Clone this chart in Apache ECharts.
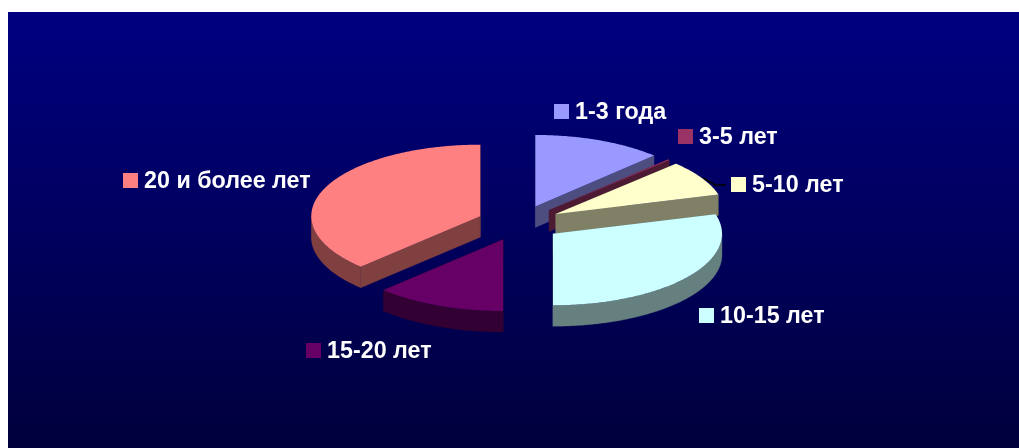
<!DOCTYPE html>
<html>
<head>
<meta charset="utf-8">
<style>html,body{margin:0;padding:0;background:#fff}#chart{width:1019px;height:448px}</style>
<script src="https://cdn.jsdelivr.net/npm/echarts@6/dist/echarts.min.js"></script>
</head>
<body>
<div id="chart"></div>
<script>
const categories = ['1-3 года', '3-5 лет', '5-10 лет', '10-15 лет', '15-20 лет', '20 и более лет'];
const shares = [12.4, 0.2, 8.0, 29.4, 12.5, 37.5];
const topColors = ['#9999FF', '#993366', '#FFFFCC', '#CCFFFF', '#660066', '#FF8080'];
const sideColors = ['#4D4D80', '#4D1A33', '#808066', '#668080', '#330033', '#804040'];
const labelAnchors = [[554, 104], [678, 129], [731, 177], [699, 308], [306, 343], [123, 173]];

const explode = 0.25, depth = 21, total = shares.reduce((a, b) => a + b, 0);
const toAngle = v => v / total * Math.PI * 2;

function renderSlice(params, api) {
  const i = params.dataIndex;
  const before = shares.slice(0, i).reduce((a, b) => a + b, 0);
  const a0 = toAngle(before), a1 = toAngle(before + shares[i]), mid = (a0 + a1) / 2;
  const ox = explode * Math.sin(mid), oy = explode * Math.cos(mid);
  const pt = (r, a) => api.coord([ox + r * Math.sin(a), oy + r * Math.cos(a)]);
  const arc = (from, to) => {
    const n = Math.max(2, Math.ceil((to - from) / 0.01)), out = [];
    for (let k = 0; k <= n; k++) out.push(pt(1, from + (to - from) * k / n));
    return out;
  };
  const down = p => [p[0], p[1] + depth];
  const apex = pt(0, 0);
  const dark = { fill: sideColors[i], stroke: sideColors[i], lineWidth: 0.3 };
  const children = [];
  const poly = (points, style) => children.push({ type: 'polygon', shape: { points }, style });

  [a0, a1].forEach(a => {
    const e = pt(1, a);
    poly([apex, e, down(e), down(apex)], dark);
  });
  const r0 = Math.max(a0, Math.PI / 2), r1 = Math.min(a1, Math.PI * 1.5);
  if (r1 > r0) {
    const rim = arc(r0, r1);
    poly(rim.concat(rim.slice().reverse().map(down)), dark);
  }
  poly([apex].concat(arc(a0, a1)), { fill: topColors[i] });
  return { type: 'group', children };
}

function renderKey(params, api) {
  const i = params.dataIndex, p = labelAnchors[i];
  const children = [
    { type: 'rect', shape: { x: p[0], y: p[1], width: 15, height: 15 }, style: { fill: topColors[i] } },
    { type: 'text', style: { text: categories[i], x: p[0] + 21, y: p[1] + 9, fill: '#fff',
        font: 'bold 23.3px "Liberation Sans", Arial, sans-serif', textVerticalAlign: 'middle' } }
  ];
  if (i === 2) {
    children.push({ type: 'polyline', shape: { points: [[703, 178], [715, 185], [726, 185]] },
      style: { stroke: '#000', lineWidth: 1.5, fill: 'none' } });
  }
  return { type: 'group', children };
}

const seriesData = shares.map((v, i) => ({ name: categories[i], value: [0, 0, v] }));
const chart = echarts.init(document.getElementById('chart'), null, { renderer: 'canvas' });
chart.setOption({
  animation: false,
  backgroundColor: '#fff',
  graphic: [{
    type: 'rect', z: -10, silent: true,
    shape: { x: 8, y: 12, width: 1011, height: 436 },
    style: { fill: new echarts.graphic.LinearGradient(0, 0, 0, 1, [
      { offset: 0, color: '#000080' }, { offset: 1, color: '#00003C' }]) }
  }],
  grid: { left: 350.3, top: 151.5, width: 338, height: 143 },
  xAxis: { type: 'value', min: -1, max: 1, show: false },
  yAxis: { type: 'value', min: -1, max: 1, show: false },
  series: [
    { type: 'custom', coordinateSystem: 'cartesian2d', renderItem: renderKey, data: seriesData, silent: true, z: 1 },
    { type: 'custom', coordinateSystem: 'cartesian2d', renderItem: renderSlice, data: seriesData, silent: true, z: 2 }
  ]
});
</script>
</body>
</html>
